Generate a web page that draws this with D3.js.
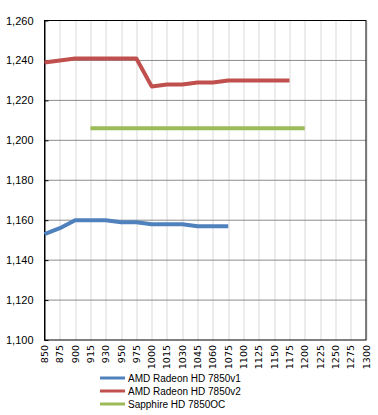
<!DOCTYPE html>
<html>
<head>
<meta charset="utf-8">
<script src="https://cdn.jsdelivr.net/npm/d3@7"></script>
<style>
  body { margin: 0; background: #fff; }
  text { font-family: "Liberation Sans", Arial, sans-serif; }
</style>
</head>
<body>
<div id="viz"></div>
<script>
// category labels on the x axis
var categories = ["850","875","900","915","930","950","975","1000","1015","1030","1045",
                  "1060","1075","1100","1125","1150","1175","1200","1225","1250","1275","1300"];

// series values (null = no point)
var v1 = [1153, 1156, 1160, 1160, 1160, 1159, 1159, 1158, 1158, 1158, 1157, 1157, 1157];
var v2 = [1239, 1240, 1241, 1241, 1241, 1241, 1241, 1227, 1228, 1228, 1229, 1229, 1230, 1230, 1230, 1230, 1230];
var oc = [null, null, null, 1206, 1206, 1206, 1206, 1206, 1206, 1206, 1206, 1206, 1206, 1206, 1206, 1206, 1206, 1206];

var seriesNames = ["AMD Radeon HD 7850v1", "AMD Radeon HD 7850v2", "Sapphire HD 7850OC"];
var seriesColors = ["#4F81BD", "#C0504D", "#9BBB59"];
var yTicks = [1100, 1120, 1140, 1160, 1180, 1200, 1220, 1240, 1260];

var W = 378, H = 415;
var margin = {top: 20.5, right: 12, bottom: 75, left: 44.5},
    width = W - margin.left - margin.right,
    height = H - margin.top - margin.bottom;

var svg = d3.select("#viz")
  .append("svg")
    .attr("width", W)
    .attr("height", H)
  .append("g")
    .attr("transform", "translate(" + margin.left + "," + margin.top + ")");

var x = d3.scalePoint()
    .domain(categories)
    .range([0, width]);

var y = d3.scaleLinear()
    .domain([1100, 1260])
    .range([height, 0]);

// vertical gridlines
svg.append("g")
  .selectAll("line")
  .data(categories.slice(1))
  .enter().append("line")
    .attr("x1", function(d) { return Math.round(x(d)) + 0.5; })
    .attr("x2", function(d) { return Math.round(x(d)) + 0.5; })
    .attr("y1", 0)
    .attr("y2", height)
    .attr("stroke", "#d9d9d9")
    .attr("stroke-width", 1);

// horizontal gridlines
svg.append("g")
  .selectAll("line")
  .data(yTicks.slice(1, -1))
  .enter().append("line")
    .attr("x1", 0)
    .attr("x2", width)
    .attr("y1", function(d) { return y(d); })
    .attr("y2", function(d) { return y(d); })
    .attr("stroke", "#8c8c8c")
    .attr("stroke-width", 1);

// plot border
svg.append("rect")
    .attr("x", 0).attr("y", 0)
    .attr("width", width).attr("height", height)
    .attr("fill", "none")
    .attr("stroke", "#000")
    .attr("stroke-width", 1);

// y axis
var yAxis = svg.append("g")
    .call(d3.axisLeft(y).tickValues(yTicks).tickSizeInner(-4).tickSizeOuter(0).tickPadding(11)
      .tickFormat(d3.format(",")));
yAxis.select(".domain").attr("stroke", "#000");
yAxis.selectAll(".tick line").attr("stroke", "#000");
yAxis.selectAll("text")
    .style("font-family", "Liberation Sans, Arial, sans-serif")
    .style("font-size", "11px")
    .attr("fill", "#000");

// x labels (rotated)
svg.append("g")
  .selectAll("text")
  .data(categories)
  .enter().append("text")
    .attr("transform", function(d) { return "translate(" + (x(d) + 3.5) + "," + (height + 5) + ") rotate(-90)"; })
    .attr("text-anchor", "end")
    .style("font-family", "DejaVu Sans, sans-serif")
    .style("font-size", "9.5px")
    .attr("fill", "#000")
    .text(function(d) { return d; });

// lines
var line = d3.line()
    .defined(function(d) { return d != null; })
    .x(function(d, i) { return x(categories[i]); })
    .y(function(d) { return y(d); });

[v1, v2, oc].forEach(function(s, k) {
  svg.append("path")
    .datum(s)
    .attr("d", line)
    .attr("fill", "none")
    .attr("stroke", seriesColors[k])
    .attr("stroke-width", 4)
    .attr("stroke-linejoin", "round");
});

// legend
var legend = d3.select("svg").append("g")
    .attr("transform", "translate(100,0)");
var legendY = [378, 391, 404];
seriesNames.forEach(function(name, k) {
  legend.append("line")
    .attr("x1", 0).attr("x2", 25)
    .attr("y1", legendY[k]).attr("y2", legendY[k])
    .attr("stroke", seriesColors[k])
    .attr("stroke-width", 3);
  legend.append("text")
    .attr("x", 28)
    .attr("y", legendY[k])
    .attr("dy", "0.35em")
    .style("font-size", "10px")
    .attr("fill", "#000")
    .text(name);
});
</script>
</body>
</html>
